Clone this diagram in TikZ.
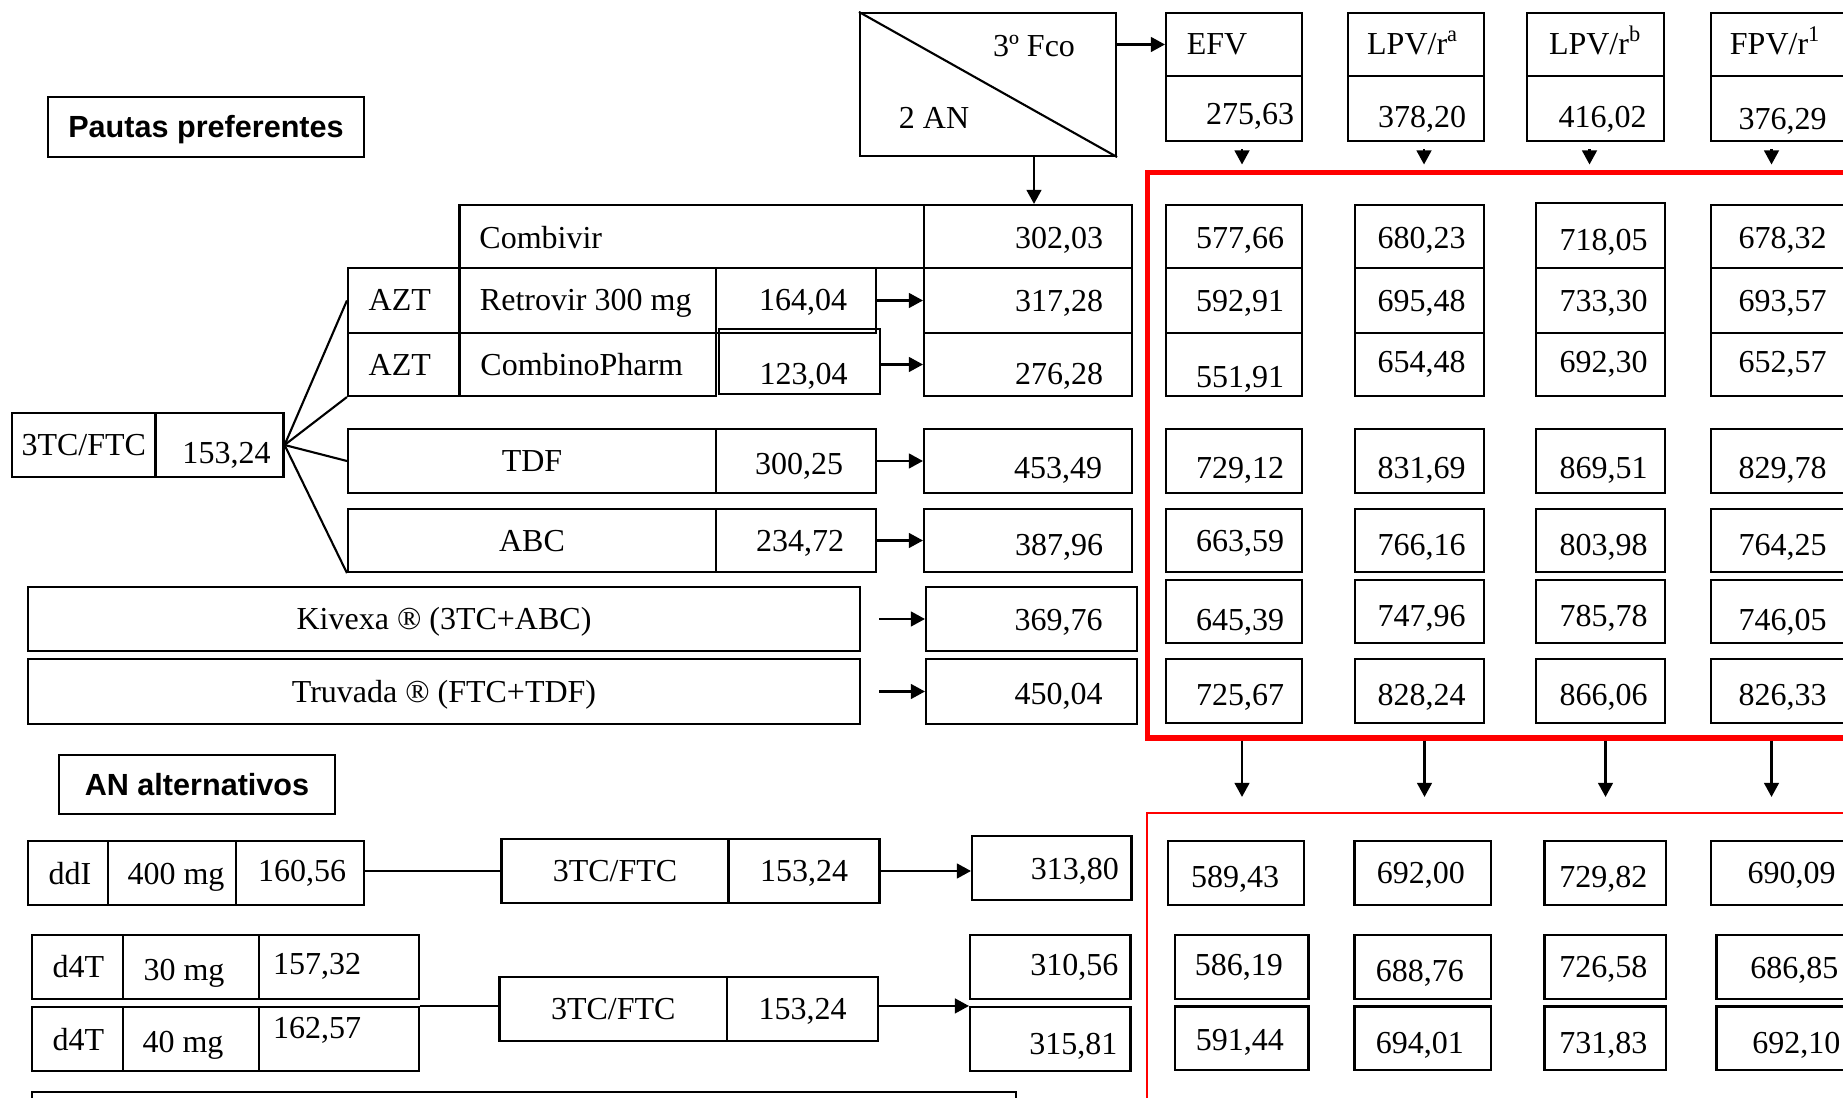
\documentclass[tikz,border=0pt]{standalone}
\usepackage{fontspec}
\setmainfont{Liberation Serif}
\newfontfamily\headfont{Liberation Sans}
\usepackage{tikz}
\usetikzlibrary{arrows.meta, calc}
\newdimen\pxu \pxu=0.01cm
\newcommand{\nudge}[3]{\raisebox{#2\pxu}{\hspace*{#1\pxu}#3\hspace*{-#1\pxu}}}

\begin{document}
\begin{tikzpicture}[x=0.01cm, y=-0.01cm, >={Triangle[length=4pt, width=4.2pt]},
        font=\fontsize{9.1}{11}\selectfont,
        span/.style args={#1/#2/#3/#4}{at={({(#1+#3)/2},{(#2+#4)/2})},
            minimum width={(#3-#1)*0.01cm}, minimum height={(#4-#2)*0.01cm}},
        box/.style = {draw, rectangle, inner sep=0pt, line width=0.6pt, text height=0.21cm, text depth=0pt},
        head/.style = {box, font=\headfont\bfseries\fontsize{8.7}{10}\selectfont},
        frame/.style = {draw=red, rectangle, inner sep=0pt}]
            \useasboundingbox (0,0) rectangle (1843,1098);
            \clip (0,0) rectangle (1843,1098);
            \tikzset{every path/.style={line width=0.6pt}}

            % Frames
            \node[frame, line width=0.05cm, span={1147/173/1900/738}] (pref) {};
            \node[frame, line width=0.6pt, span={1147/813/1900/1160}] (alt) {};

            % Nodes
            \node[head, span={48/97/364/157}] (pautas) {Pautas preferentes};
            \node[box, span={860/13/1116/156}] (fco) {};
            \node (fcoa) at (1034,46) {3º Fco};
            \node (fcob) at (934,118) {2 AN};

            \node[box, span={1166/13/1302/76}] (efvh) {\nudge{-17}{0}{EFV}};
            \node[box, span={1166/76/1302/141}] (efvv) {\nudge{16}{-6}{275,63}};
            \node[box, span={1348/13/1484/76}] (lpah) {\nudge{-3}{0}{LPV/r\textsuperscript{a}}};
            \node[box, span={1348/76/1484/141}] (lpav) {\nudge{6}{-9}{378,20}};
            \node[box, span={1527/13/1664/76}] (lpbh) {LPV/r\textsuperscript{b}};
            \node[box, span={1527/76/1664/141}] (lpbv) {\nudge{7}{-9}{416,02}};
            \node[box, span={1711/13/1846/76}] (fpvh) {\nudge{-3}{0}{FPV/r\textsuperscript{1}}};
            \node[box, span={1711/76/1846/141}] (fpvv) {\nudge{4}{-11}{376,29}};

            \node[box, span={459.5/205/924/268}] (comb) {\nudge{-151}{-2}{Combivir}};
            \node[box, span={348/268/459.5/333}] (azt1) {\nudge{-4}{0}{AZT}};
            \node[box, span={459.5/268/716/333}] (ret) {\nudge{-2}{0}{Retrovir 300 mg}};
            \node[box, span={716/268/876/333}] (v164) {\nudge{7}{0}{164,04}};
            \node[box, span={348/333/459.5/396}] (azt2) {\nudge{-4}{-1}{AZT}};
            \node[box, span={459.5/333/716/396}] (cph) {\nudge{-6}{-1}{CombinoPharm}};
            \node[box, span={719/329/880/394}] (v123) {\nudge{4}{-12}{123,04}};
            \node[box, span={12/413/155.5/477}] (tc) {3TC/FTC};
            \node[box, span={155.5/413/283.5/477}] (tcv) {\nudge{7}{-8}{153,24}};
            \node[box, span={348/429/716/493}] (tdf) {TDF};
            \node[box, span={716/429/876/493}] (v300) {\nudge{3}{-3}{300,25}};
            \node[box, span={348/509/716/572}] (abc) {\nudge{0}{-1}{ABC}};
            \node[box, span={716/509/876/572}] (v234) {\nudge{4}{-1}{234,72}};
            \node[box, span={28/587/860/651}] (kiv) {Kivexa ® (3TC+ABC)};
            \node[box, span={28/659/860/724}] (tru) {Truvada ® (FTC+TDF)};

            \node[box, span={924/205/1132/268}] (c302) {\nudge{31}{-2}{302,03}};
            \node[box, span={924/268/1132/333}] (c317) {\nudge{31}{-1}{317,28}};
            \node[box, span={924/333/1132/396}] (c276) {\nudge{31}{-10}{276,28}};
            \node[box, span={924/429/1132/493}] (c453) {\nudge{30}{-7}{453,49}};
            \node[box, span={924/509/1132/572}] (c387) {\nudge{31}{-4}{387,96}};
            \node[box, span={926/587/1137/651}] (c369) {\nudge{27}{-1}{369,76}};
            \node[box, span={926/659/1137/724}] (c450) {\nudge{27}{-2}{450,04}};

            \node[box, span={1166/205/1302/268}] (e1) {\nudge{6}{-2}{577,66}};
            \node[box, span={1355/205/1484/268}] (la1) {\nudge{2}{-2}{680,23}};
            \node[box, span={1536/203/1665/268}] (lb1) {\nudge{3}{-5}{718,05}};
            \node[box, span={1711/205/1846/268}] (f1) {\nudge{4}{-2}{678,32}};
            \node[box, span={1166/268/1302/333}] (e2) {\nudge{6}{-1}{592,91}};
            \node[box, span={1355/268/1484/333}] (la2) {\nudge{2}{-1}{695,48}};
            \node[box, span={1536/268/1665/333}] (lb2) {\nudge{3}{-1}{733,30}};
            \node[box, span={1711/268/1846/333}] (f2) {\nudge{4}{-1}{693,57}};
            \node[box, span={1166/333/1302/396}] (e3) {\nudge{6}{-12}{551,91}};
            \node[box, span={1355/333/1484/396}] (la3) {\nudge{2}{2}{654,48}};
            \node[box, span={1536/333/1665/396}] (lb3) {\nudge{3}{2}{692,30}};
            \node[box, span={1711/333/1846/396}] (f3) {\nudge{4}{2}{652,57}};
            \node[box, span={1166/429/1302/493}] (e4) {\nudge{6}{-7}{729,12}};
            \node[box, span={1355/429/1484/493}] (la4) {\nudge{2}{-7}{831,69}};
            \node[box, span={1536/429/1665/493}] (lb4) {\nudge{3}{-7}{869,51}};
            \node[box, span={1711/429/1846/493}] (f4) {\nudge{4}{-7}{829,78}};
            \node[box, span={1166/509/1302/572}] (e5) {\nudge{6}{-1}{663,59}};
            \node[box, span={1355/509/1484/572}] (la5) {\nudge{2}{-4}{766,16}};
            \node[box, span={1536/509/1665/572}] (lb5) {\nudge{3}{-4}{803,98}};
            \node[box, span={1711/509/1846/572}] (f5) {\nudge{4}{-4}{764,25}};
            \node[box, span={1166/580/1302/643}] (e6) {\nudge{6}{-8}{645,39}};
            \node[box, span={1355/580/1484/643}] (la6) {\nudge{2}{-4}{747,96}};
            \node[box, span={1536/580/1665/643}] (lb6) {\nudge{3}{-4}{785,78}};
            \node[box, span={1711/580/1846/643}] (f6) {\nudge{4}{-8}{746,05}};
            \node[box, span={1166/659/1302/723}] (e7) {\nudge{6}{-4}{725,67}};
            \node[box, span={1355/659/1484/723}] (la7) {\nudge{2}{-4}{828,24}};
            \node[box, span={1536/659/1665/723}] (lb7) {\nudge{3}{-4}{866,06}};
            \node[box, span={1711/659/1846/723}] (f7) {\nudge{4}{-4}{826,33}};

            \node[head, span={59/755/335/814}] (anal) {AN alternativos};
            \node[box, span={28/841/108/905}] (ddi) {\nudge{2}{-1}{ddI}};
            \node[box, span={108/841/236/905}] (d400) {\nudge{4}{-1}{400 mg}};
            \node[box, span={236/841/364/905}] (d160) {\nudge{2}{2}{160,56}};
            \node[box, span={501.5/839/728.5/903}] (ftc1) {3TC/FTC};
            \node[box, span={728.5/839/879.5/903}] (ftc1v) {153,24};
            \node[box, span={972/836/1131.5/900}] (r313) {\nudge{23}{-1}{313,80}};
            \node[box, span={32/935/123/999}] (d4a) {\nudge{1}{0}{d4T}};
            \node[box, span={123/935/259/999}] (d30) {\nudge{-7}{-3}{30 mg}};
            \node[box, span={259/935/419/999}] (d157) {\nudge{-22}{3}{157,32}};
            \node[box, span={32/1007/123/1071}] (d4b) {\nudge{1}{-1}{d4T}};
            \node[box, span={123/1007/259/1071}] (d40) {\nudge{-8}{-3}{40 mg}};
            \node[box, span={259/1007/419/1071}] (d162) {\nudge{-22}{11}{162,57}};
            \node[box, span={499.5/977/727/1041}] (ftc2) {3TC/FTC};
            \node[box, span={727/977/878/1041}] (ftc2v) {153,24};
            \node[box, span={970/935/1130.5/999}] (r310) {\nudge{24}{2}{310,56}};
            \node[box, span={970/1007/1130.5/1071}] (r315) {\nudge{23}{-5}{315,81}};

            \node[box, span={1168/841/1304/905}] (ae1) {\nudge{-1}{-4}{589,43}};
            \node[box, span={1354.5/841/1491/905}] (ala1) {\nudge{-2}{0}{692,00}};
            \node[box, span={1544.5/841/1666/905}] (alb1) {\nudge{-2}{-4}{729,82}};
            \node[box, span={1711/841/1852/905}] (af1) {\nudge{10}{0}{690,09}};
            \node[box, span={1175/935/1308.5/999}] (ae2) {\nudge{-3}{2}{586,19}};
            \node[box, span={1354.5/935/1491/999}] (ala2) {\nudge{-3}{-4}{688,76}};
            \node[box, span={1544.5/935/1666/999}] (alb2) {\nudge{-2}{0}{726,58}};
            \node[box, span={1716.5/935/1852/999}] (af2) {\nudge{10}{-1}{686,85}};
            \node[box, span={1175/1006.5/1308.5/1070}] (ae3) {\nudge{-2}{-2}{591,44}};
            \node[box, span={1354.5/1006.5/1491/1070}] (ala3) {\nudge{-3}{-5}{694,01}};
            \node[box, span={1544.5/1006.5/1666/1070}] (alb3) {\nudge{-2}{-5}{731,83}};
            \node[box, span={1716.5/1006.5/1852/1070}] (af3) {\nudge{12}{-5}{692,10}};

            \node[box, span={32/1092/1016/1160}] (nota) {};

            % Lines
            \draw (fco.north west) -- (fco.south east);
            \draw[->] (fco.east |- efvh.west) -- (efvh.west);
            \draw[->] (fcoa |- fco.south) -- (fcoa |- c302.north);
            \foreach \n/\d in {efvv/8, lpav/8, lpbv/-6, fpvv/-7}
                \draw[->] ($(\n.south)+(\d,7)$) -- ($(\n.south |- pref.north)+(\d,-6)$);

            \draw (tcv.east) -- (azt1.west);
            \draw (tcv.east) -- (azt2.south west);
            \draw (tcv.east) -- (tdf.west);
            \draw (tcv.east) -- (abc.south west);
            \draw[->] (v164.east) -- (c317.west);
            \draw[->] (v123.east |- c276.west) -- (c276.west);
            \draw[->] (v300.east) -- (c453.west);
            \draw[->] (v234.east) -- (c387.west);
            \draw[->, shorten <=0.18cm] (kiv.east) -- (c369.west);
            \draw[->, shorten <=0.18cm] (tru.east) -- (c450.west);

            \foreach \n/\d in {e7/8, la7/5, lb7/5, f7/-7}
                \draw[->] ($(\n.south |- pref.south)+(\d,0)$) -- ($(\n.south |- alt.north)+(\d,-15)$);

            \draw (ftc1.west -| d160.east) -- (ftc1.west);
            \draw[->] (ftc1v.east) -- (ftc1v.east -| r313.west);
            \draw (d162.north east) -- (d162.north east -| ftc2.west);
            \draw[->] (ftc2v.east |- r315.north) -- (r315.north west);
        \end{tikzpicture}
\end{document}
